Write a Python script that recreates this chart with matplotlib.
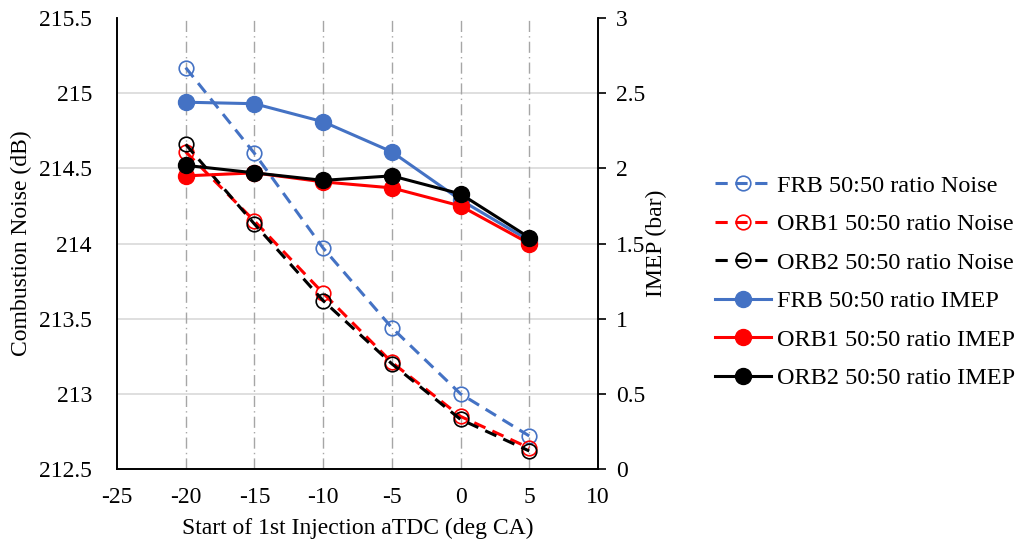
import matplotlib
matplotlib.use("Agg")
import matplotlib.pyplot as plt
from matplotlib.lines import Line2D

plt.rcParams['font.family'] = ['Liberation Serif', 'DejaVu Serif']
plt.rcParams['axes.unicode_minus'] = False

soi = [-20, -15, -10, -5, 0, 5]

frb_noise = [215.17, 214.60, 213.97, 213.44, 213.00, 212.72]
orb1_noise = [214.61, 214.15, 213.67, 213.21, 212.85, 212.64]
orb2_noise = [214.66, 214.13, 213.62, 213.20, 212.83, 212.62]

frb_imep = [2.44, 2.43, 2.31, 2.11, 1.79, 1.52]
orb1_imep = [1.95, 1.97, 1.91, 1.87, 1.75, 1.50]
orb2_imep = [2.02, 1.97, 1.92, 1.95, 1.83, 1.54]

labels = ["FRB 50:50 ratio Noise", "ORB1 50:50 ratio Noise", "ORB2 50:50 ratio Noise",
          "FRB 50:50 ratio IMEP", "ORB1 50:50 ratio IMEP", "ORB2 50:50 ratio IMEP"]

BLUE = '#4472C4'
RED = '#FF0000'
BLACK = '#000000'
FS = 17

fig = plt.figure(figsize=(10.19, 5.46), dpi=100)
ax = fig.add_axes([0.1148, 0.141, 0.472, 0.826])
ax2 = ax.twinx()

ax.set_xlim(-25, 10)
ax.set_ylim(212.5, 215.5)
ax2.set_ylim(0, 3)
ax.set_xticks(range(-25, 11, 5))
ax.set_yticks([212.5, 213, 213.5, 214, 214.5, 215, 215.5])
ax.set_yticklabels(['212.5', '213', '213.5', '214', '214.5', '215', '215.5'])
ax2.set_yticks([0, 0.5, 1, 1.5, 2, 2.5, 3])
ax2.set_yticklabels(['0', '0.5', '1', '1.5', '2', '2.5', '3'])

# grid
for yv in [213, 213.5, 214, 214.5, 215]:
    ax.axhline(yv, color='#d9d9d9', lw=1.2, zorder=0)
for xv in soi:
    ax.axvline(xv, color='#a6a6a6', lw=1.0, ls=(0, (8, 3, 1, 3)), zorder=0)

ax.spines['top'].set_visible(False)
ax2.spines['top'].set_visible(False)
for a in (ax, ax2):
    for s in ['left', 'right', 'bottom']:
        a.spines[s].set_linewidth(1.2)
ax.tick_params(axis='y', length=0, labelsize=FS, pad=18)
ax.tick_params(axis='x', length=0, labelsize=FS, pad=13)
ax2.tick_params(axis='y', length=6, width=1.2, labelsize=FS, pad=7)

dash = (0, (4, 2.5))
noise_kw = dict(ls=dash, lw=2.2, marker='o', ms=10.5, mfc='none', mew=1.2)
imep_kw = dict(ls='-', lw=2.2, marker='o', ms=11.5)

ax.plot(soi, frb_noise, color=BLUE, **noise_kw)
ax.plot(soi, orb1_noise, color=RED, **noise_kw)
ax.plot(soi, orb2_noise, color=BLACK, **noise_kw)

ax2.plot(soi, frb_imep, color=BLUE, **imep_kw)
ax2.plot(soi, orb1_imep, color=RED, **imep_kw)
ax2.plot(soi, orb2_imep, color=BLACK, **imep_kw)

fig.text(358 / 1019, 1 - 528 / 546, 'Start of 1st Injection aTDC (deg CA)',
         fontsize=FS, ha='center', va='center')
fig.text(21 / 1019, 1 - 243 / 546, 'Combustion Noise (dB)',
         fontsize=FS, ha='center', va='center', rotation=90)
fig.text(656 / 1019, 1 - 243 / 546, 'IMEP (bar)',
         fontsize=FS, ha='center', va='center', rotation=90)

handles = []
for c in (BLUE, RED, BLACK):
    handles.append(Line2D([], [], color=c, **noise_kw))
for c in (BLUE, RED, BLACK):
    handles.append(Line2D([], [], color=c, **imep_kw))
fig.legend(handles, labels, loc='center left', bbox_to_anchor=(0.702, 0.4835),
           frameon=False, fontsize=17.5, handlelength=2.3, labelspacing=0.68,
           handletextpad=0.25, borderpad=0, borderaxespad=0)

fig.savefig('out.png', dpi=100)
